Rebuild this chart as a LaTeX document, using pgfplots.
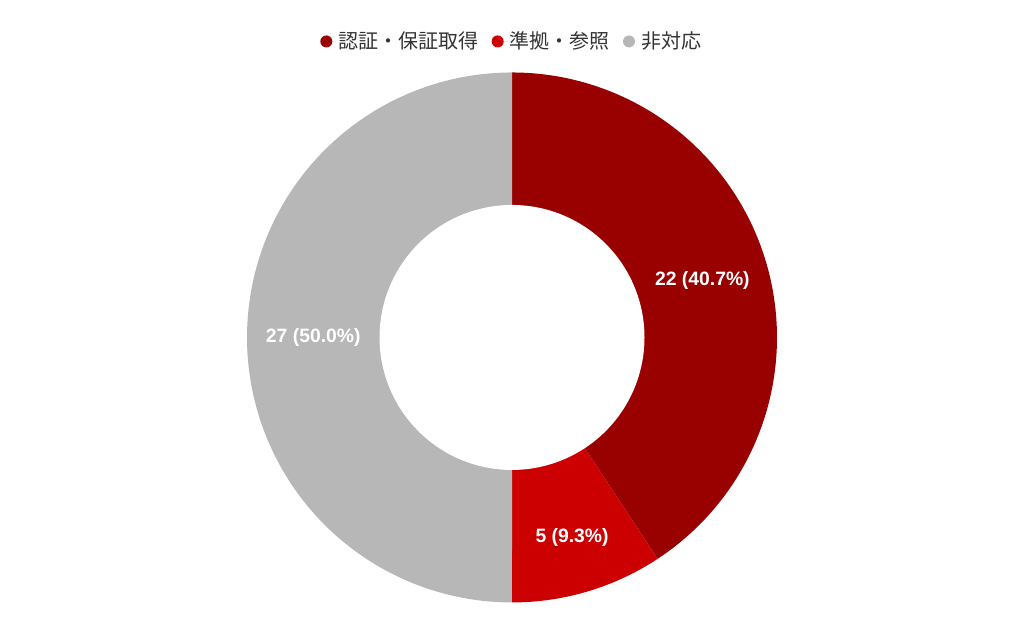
\documentclass[border=0pt]{standalone}
\usepackage{pgfplots}
\pgfplotsset{compat=1.18}
\usepackage{fontspec}
\setmainfont{Liberation Sans}
\newfontfamily\cjk{Noto Sans CJK JP}
\definecolor{cA}{HTML}{990000}
\definecolor{cB}{HTML}{CC0000}
\definecolor{cC}{HTML}{B7B7B7}
\definecolor{legtext}{HTML}{333333}
\def\vA{22}
\def\vB{5}
\def\vC{27}
\begin{document}
\begin{tikzpicture}
\pgfmathsetmacro{\T}{\vA+\vB+\vC}
\pgfmathsetmacro{\aA}{90-360*\vA/\T}
\pgfmathsetmacro{\aB}{\aA-360*\vB/\T}
\pgfmathsetmacro{\aC}{\aB-360*\vC/\T}
\pgfmathsetmacro{\xA}{0.75*cos((90+\aA)/2)}
\pgfmathsetmacro{\yA}{0.75*sin((90+\aA)/2)}
\pgfmathsetmacro{\xB}{0.79*cos((\aA+\aB)/2)}
\pgfmathsetmacro{\yB}{0.79*sin((\aA+\aB)/2)}
\pgfmathsetmacro{\xC}{0.75*cos((\aB+\aC)/2)}
\pgfmathsetmacro{\yC}{0.75*sin((\aB+\aC)/2)}
\useasboundingbox (0,0) rectangle (768pt,475.5pt);
\begin{axis}[
  at={(384pt,222.4pt)}, anchor=center,
  scale only axis, width=397.5pt, height=397.5pt,
  xmin=-1, xmax=1, ymin=-1, ymax=1,
  hide axis, clip=false,
  legend columns=3,
  legend style={at={(axis description cs:0.5,1.0585)}, anchor=center,
    draw=none, fill=none, text=legtext,
    font=\cjk\fontsize{15}{18}\selectfont,
    /tikz/every even column/.append style={column sep=8pt}},
  legend image code/.code={\fill[#1] (0pt,0pt) circle (4.5pt); \path (-4.5pt,0pt) -- (7pt,0pt);},
]
\addplot[fill=cA, draw=none, domain=\aA:90, samples=120] ({cos(x)},{sin(x)}) -- (0,0) -- cycle;
\addlegendentry{認証・保証取得}
\addplot[fill=cB, draw=none, domain=\aB:\aA, samples=60] ({cos(x)},{sin(x)}) -- (0,0) -- cycle;
\addlegendentry{準拠・参照}
\addplot[fill=cC, draw=none, domain=\aC:\aB, samples=150] ({cos(x)},{sin(x)}) -- (0,0) -- cycle;
\addlegendentry{非対応}
\addplot[fill=white, draw=none, domain=0:360, samples=200, forget plot] ({0.5*cos(x)},{0.5*sin(x)}) -- cycle;
\node[text=white, font=\bfseries\fontsize{14.5}{17}\selectfont] at (axis cs:\xA,\yA) {22 (40.7\%)};
\node[text=white, font=\bfseries\fontsize{14.5}{17}\selectfont] at (axis cs:\xB,\yB) {5 (9.3\%)};
\node[text=white, font=\bfseries\fontsize{14.5}{17}\selectfont] at (axis cs:\xC,\yC) {27 (50.0\%)};
\end{axis}
\end{tikzpicture}
\end{document}
